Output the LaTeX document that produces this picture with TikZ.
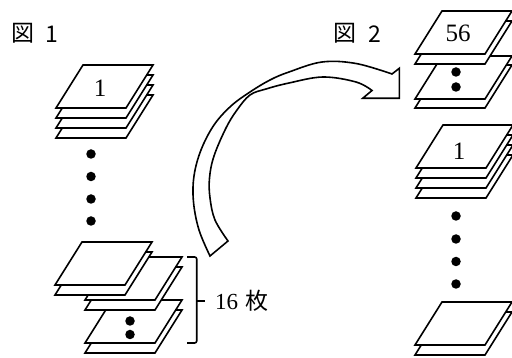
\documentclass[tikz,border=0pt]{standalone}
\usepackage{fontspec}
\setmainfont{Liberation Serif}
\newfontfamily\jpfont{Noto Sans CJK JP}
\newcommand\papersheet[2]{\path[sheetshape] (#1,#2) -- ++(70,0) -- ++(27,-43) -- ++(-70,0) -- cycle;}
\begin{document}
\begin{tikzpicture}[x=1pt,y=-1pt,
  sheetshape/.style={draw=black, fill=white, line width=1.6pt, line join=miter},
  dotmark/.style={circle, fill=black, inner sep=0pt, minimum size=9.5pt},
  numlab/.style={inner sep=0pt, font=\fontsize{25}{25}\selectfont},
  figlab/.style={inner sep=0pt, font=\jpfont\fontsize{23}{23}\selectfont},
  countlab/.style={inner sep=0pt, font=\fontsize{23}{23}\selectfont},
  bracestyle/.style={draw=black, line width=1.6pt, rounded corners=2pt},
  arrowshape/.style={draw=black, fill=white, line width=1.6pt, line join=miter}]
\useasboundingbox (0,0) rectangle (512,358);

% titles
\node[figlab] (fig1k) at (22.7,33) {図};
\node[figlab] (fig1n) at (51.5,34) {1};
\node[figlab] (fig2k) at (344.8,33) {図};
\node[figlab] (fig2n) at (375,34) {2};

% left top stack
\papersheet{56}{138}
\papersheet{56}{128}
\papersheet{56}{118}
\papersheet{56}{108}
\node[numlab] (l1lab) at (100,88.7) {1};

% left dots
\node[dotmark] (ld1) at (91,154) {};
\node[dotmark] (ld2) at (91,176.5) {};
\node[dotmark] (ld3) at (91,199) {};
\node[dotmark] (ld4) at (91,221) {};

% left bottom groups
\papersheet{85}{353}
\papersheet{85}{343}
\node[dotmark] (cd1) at (130,321) {};
\node[dotmark] (cd2) at (130,334.5) {};
\papersheet{85}{310}
\papersheet{85}{300}
\papersheet{55}{295}
\papersheet{55}{285}

% brace and count
\path[bracestyle] (187,257) -- (196.7,257) -- (196.7,343) -- (187,343);
\path[bracestyle] (196.7,301) -- (205,301);
\node[countlab] (cnt) at (226.5,301.5) {16};
\node[figlab] (mai) at (256.5,300.5) {枚};

% right column
\papersheet{415}{108}
\papersheet{415}{99}
\node[dotmark] (rd1) at (456,72) {};
\node[dotmark] (rd2) at (456,87) {};
\papersheet{415}{64}
\papersheet{415}{54}
\node[numlab] (r1lab) at (458,33) {56};

\papersheet{416}{198}
\papersheet{416}{188}
\papersheet{416}{178}
\papersheet{416}{168}
\node[numlab] (r3lab) at (459,151) {1};

\node[dotmark] (rd3) at (456,216) {};
\node[dotmark] (rd4) at (456,239) {};
\node[dotmark] (rd5) at (456,261.5) {};
\node[dotmark] (rd6) at (456,284) {};

\papersheet{415}{355}
\papersheet{415}{345}

% curved arrow
\path[arrowshape]
  plot[smooth, tension=0.6] coordinates {(210,256) (199,230) (193.5,202) (194,176) (201,150) (214,125) (231,106) (250,92) (270,80) (289,72) (322,62) (356,63.5) (392,74)}
  -- (399.3,68.3) -- (399.3,98.3) -- (362.7,98.3)
  -- plot[smooth, tension=0.6] coordinates {(372,90.5) (356,82) (323,77) (289,83) (266,89) (250,95) (237,110) (226,128) (214,156) (209.5,178) (210,198) (215,220) (228,241)}
  -- cycle;
\end{tikzpicture}
\end{document}
